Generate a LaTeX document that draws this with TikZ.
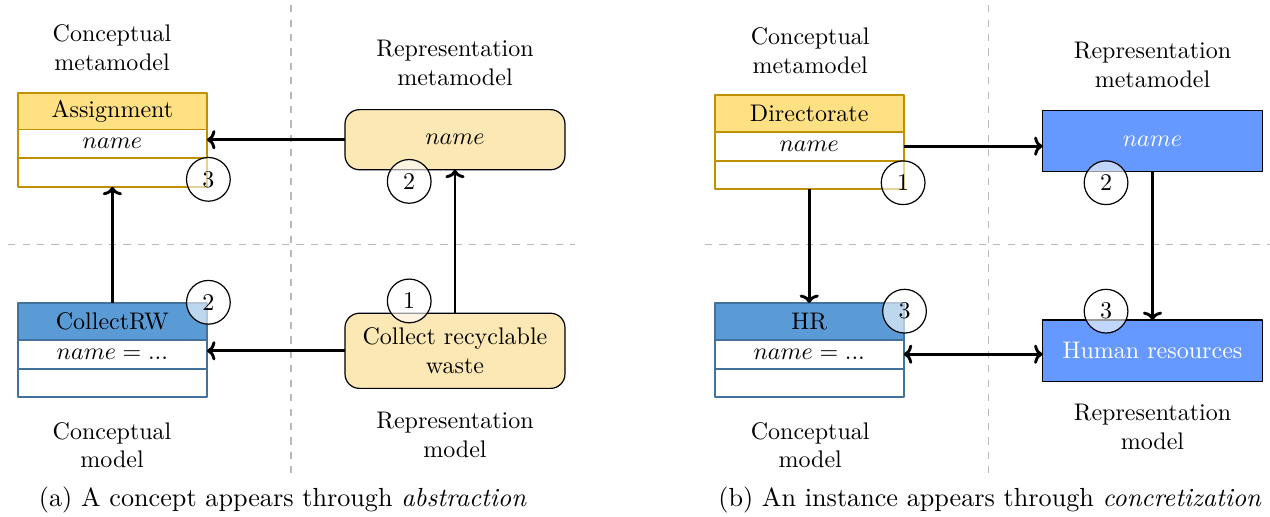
\documentclass[tikz,border=0pt]{standalone}
\usetikzlibrary{positioning,arrows.meta}
\definecolor{headyellow}{HTML}{FFE082}
\definecolor{bordergold}{HTML}{BF9000}
\definecolor{paleyellow}{HTML}{FCE8B4}
\definecolor{headblue}{HTML}{5B9BD5}
\definecolor{borderblue}{HTML}{41719C}
\definecolor{repblue}{HTML}{6699FF}
\begin{document}
\begin{tikzpicture}[line join=round,>={To[length=3.5pt,width=8pt]}]
	\tikzset{classhead/.style={draw,line width=0.8pt,minimum width=2.77cm,minimum height=0.54cm,inner sep=0pt,outer sep=0pt},
		classrow/.style={draw,fill=white,line width=0.8pt,minimum width=2.77cm,minimum height=0.42cm,inner sep=0pt,outer sep=0pt},
		yellowclass/.style={fill=headyellow,draw=bordergold},
		blueclass/.style={fill=headblue,draw=borderblue},
		repbox/.style={draw,line width=0.5pt,minimum width=3.22cm,inner sep=2pt,outer sep=0pt,align=center},
		badge/.style={circle,draw,line width=0.5pt,minimum size=0.64cm,inner sep=0pt,fill=white,fill opacity=0.6,text opacity=1},
		link/.style={line width=1.2pt},
		sepline/.style={gray!55,line width=0.5pt,dash pattern=on 3pt off 3pt},
		caption/.style={align=center},
		subcap/.style={font=\fontsize{10.9}{13}\selectfont}}
	\useasboundingbox (0,0) rectangle (18.59,7.555);
	% (a) abstraction
	\draw[sepline] (4.26,7.48)--(4.26,0.6);
	\draw[sepline] (0.12,3.98)--(8.42,3.98);
	\node[caption] (la1) at (1.64,6.86) {Conceptual\\metamodel};
	\node[caption] (la2) at (6.66,6.63) {Representation\\metamodel};
	\node[caption] (la3) at (1.64,1.04) {Conceptual\\model};
	\node[caption] (la4) at (6.66,1.19) {Representation\\model};
	\node[classhead,yellowclass] (assign) at (1.645,5.93) {Assignment};
	\node[classrow,draw=bordergold,below=0pt of assign] (assign-attr) {$name$};
	\node[classrow,draw=bordergold,below=0pt of assign-attr] (assign-op) {};
	\node[classhead,blueclass] (crw) at (1.645,2.85) {CollectRW};
	\node[classrow,draw=borderblue,below=0pt of crw] (crw-attr) {$name = ...$};
	\node[classrow,draw=borderblue,below=0pt of crw-attr] (crw-op) {};
	\node[repbox,fill=paleyellow,rounded corners=6pt,minimum height=0.88cm] (repa) at (6.66,5.51) {$name$};
	\node[repbox,fill=paleyellow,rounded corners=6pt,minimum height=1.10cm] (collect) at (6.66,2.42) {Collect recyclable\\waste};
	\draw[->,link] (repa.west)--(repa.west -| assign-attr.east);
	\draw[->,link] (collect.west)--(collect.west -| crw-attr.east);
	\draw[->,link] (crw.north)--(assign-op.south);
	\draw[->,link] (collect.north)--(repa.south);
	\node[badge] (ba3) at (3.05,4.93) {3};
	\node[badge] (ba2) at (5.99,4.90) {2};
	\node[badge] (ba2b) at (3.05,3.13) {2};
	\node[badge] (ba1) at (5.99,3.15) {1};
	\node[subcap] (capa) at (4.14,0.23) {(a) A concept appears through \emph{abstraction}};
	% (b) concretization
	\draw[sepline] (14.47,7.48)--(14.47,0.6);
	\draw[sepline] (10.32,3.98)--(18.59,3.98);
	\node[caption] (lb1) at (11.86,6.81) {Conceptual\\metamodel};
	\node[caption] (lb2) at (16.87,6.60) {Representation\\metamodel};
	\node[caption] (lb3) at (11.86,1.04) {Conceptual\\model};
	\node[caption] (lb4) at (16.87,1.30) {Representation\\model};
	\node[classhead,yellowclass] (dir) at (11.845,5.895) {Directorate};
	\node[classrow,draw=bordergold,below=0pt of dir] (dir-attr) {$name$};
	\node[classrow,draw=bordergold,below=0pt of dir-attr] (dir-op) {};
	\node[classhead,blueclass] (hr) at (11.845,2.85) {HR};
	\node[classrow,draw=borderblue,below=0pt of hr] (hr-attr) {$name = ...$};
	\node[classrow,draw=borderblue,below=0pt of hr-attr] (hr-op) {};
	\node[repbox,fill=repblue,text=white,minimum height=0.90cm] (repb) at (16.87,5.49) {$name$};
	\node[repbox,fill=repblue,text=white,minimum height=0.90cm] (hres) at (16.87,2.42) {Human resources};
	\draw[->,link] (dir-attr.east)--(dir-attr.east -| repb.west);
	\draw[->,link] (dir-op.south)--(hr.north);
	\draw[->,link] (repb.south)--(hres.north);
	\draw[<->,link] (hr-attr.east)--(hr-attr.east -| hres.west);
	\node[badge] (bb1) at (13.22,4.88) {1};
	\node[badge] (bb2) at (16.19,4.88) {2};
	\node[badge] (bb3) at (13.24,3.00) {3};
	\node[badge] (bb3b) at (16.19,3.00) {3};
	\node[subcap] (capb) at (14.49,0.23) {(b) An instance appears through \emph{concretization}};
\end{tikzpicture}
\end{document}
